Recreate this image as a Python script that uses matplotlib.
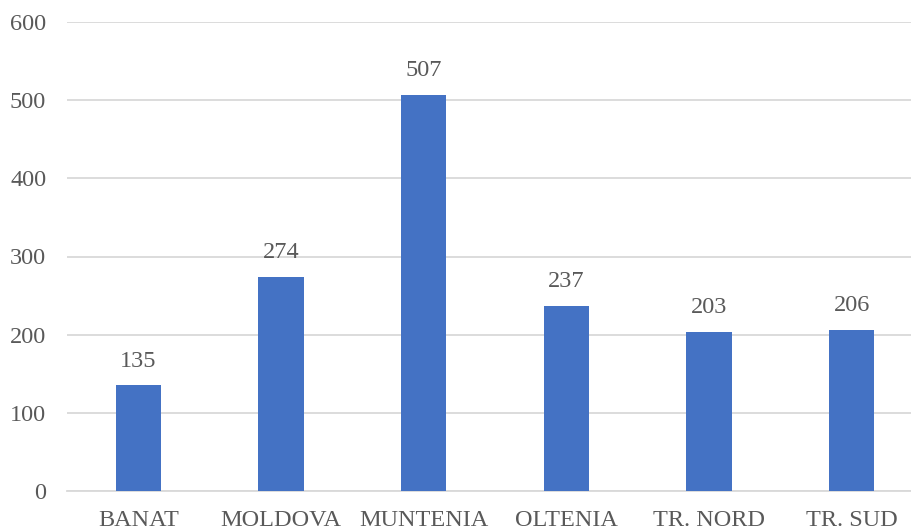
import matplotlib
matplotlib.use("Agg")
import matplotlib.pyplot as plt

categories = ["BANAT", "MOLDOVA", "MUNTENIA", "OLTENIA", "TR. NORD", "TR. SUD"]
values = [135, 274, 507, 237, 203, 206]
yticks = [0, 100, 200, 300, 400, 500, 600]

plt.rcParams['font.family'] = ['Liberation Serif', 'DejaVu Serif']
fig = plt.figure(figsize=(9.12, 5.31), dpi=100)
W, H = 912, 531
left, right = 67, 923
bottom, top = 491, 22
ax = fig.add_axes([left / W, (H - bottom) / H, (right - left) / W, (bottom - top) / H])

text_color = "#595959"
bars = ax.bar(range(len(categories)), values, width=0.32, color="#4472C4", zorder=3)
for i, v in enumerate(values):
    ax.annotate(str(v), (i, v), xytext=(0, 10), textcoords="offset points",
                ha="center", va="bottom", fontsize=17.5, color=text_color)

ax.set_xlim(-0.5, len(categories) - 0.5)
ax.set_ylim(0, 600)
ax.set_yticks(yticks)
ax.set_yticklabels([str(t) for t in yticks])
ax.set_xticks(range(len(categories)))
ax.set_xticklabels(categories)
ax.tick_params(axis='both', length=0, labelsize=17.5, colors=text_color)
ax.tick_params(axis='y', pad=15)
ax.tick_params(axis='x', pad=14)
ax.yaxis.grid(True, color="#D9D9D9", linewidth=1.3, zorder=0)
for s in ["top", "right", "left"]:
    ax.spines[s].set_visible(False)
ax.spines["bottom"].set_color("#D9D9D9")
ax.spines["bottom"].set_linewidth(1.3)

fig.savefig("out.png", dpi=100)
